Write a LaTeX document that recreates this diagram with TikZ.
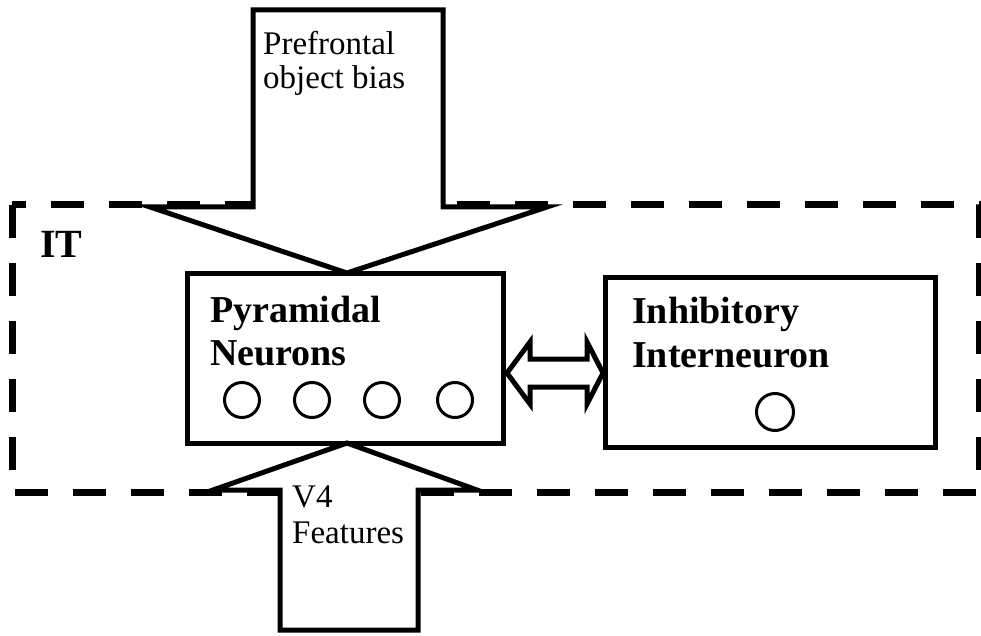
\documentclass[tikz,border=0pt]{standalone}
\usepackage{fontspec}
\setmainfont{Liberation Serif}
\begin{document}
\begin{tikzpicture}[x=1pt,y=-1pt,
  box/.style={draw,line width=5pt,minimum width=#1,inner sep=0pt,minimum height=170pt},
  cell/.style={draw,line width=3pt,circle,minimum size=35pt,inner sep=0pt},
  flow/.style={draw,line width=5pt,fill=white,line join=miter},
  region/.style={draw,line width=7pt,dash pattern=on 33pt off 25pt},
  lbl/.style={anchor=base west,inner sep=0pt,font=\fontsize{33}{36}\selectfont},
  blbl/.style={anchor=base west,inner sep=0pt,font=\fontsize{38}{40}\selectfont\bfseries}]
\useasboundingbox (0,0) rectangle (981,636);
% IT region
\draw[region] (12,205) rectangle (979,492);
\node[anchor=base west,inner sep=0pt,font=\fontsize{40}{44}\selectfont\bfseries] (it) at (40,257) {IT};
% boxes
\node[box=316pt] (pyr) at (345,358) {};
\node[box=330pt] (inh) at (770,362) {};
% top arrow
\coordinate (ttip) at (347,273);
\draw[flow] (150,207) -- (253,207) -- (253,10) -- (443,10) -- (443,207) -- (547,207) -- (ttip) -- cycle;
% bottom arrow
\coordinate (btip) at (347,443);
\draw[flow] (213,490) -- (btip) -- (477,490) -- (418,490) -- (418,630) -- (280,630) -- (280,490) -- cycle;
% redraw box border over arrow tips
\node[box=316pt] at (pyr) {};
% double arrow
\draw[line width=5pt,line join=miter] (507,373) -- (530,342) -- (530,359) -- (587,359) -- (587,342) -- (603,373) -- (587,404) -- (587,387) -- (530,387) -- (530,404) -- cycle;
% cells
\node[cell] (c1) at (242,400) {};
\node[cell] (c2) at (312,400) {};
\node[cell] (c3) at (382,400) {};
\node[cell] (c4) at (455,400) {};
\node[cell,minimum size=37pt] (c5) at (775,412) {};
% labels
\node[lbl] (pf1) at (263,55) {Prefrontal};
\node[lbl] (pf2) at (263,89) {object bias};
\node[lbl] (v41) at (292,507) {V4};
\node[lbl] (v42) at (292,543) {Features};
\node[blbl] (py1) at (210,322) {Pyramidal};
\node[blbl] (py2) at (210,365) {Neurons};
\node[blbl] (in1) at (632,323) {Inhibitory};
\node[blbl] (in2) at (632,367) {Interneuron};
\end{tikzpicture}
\end{document}
